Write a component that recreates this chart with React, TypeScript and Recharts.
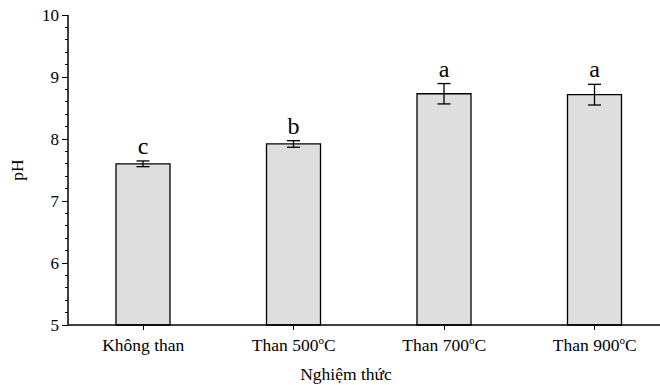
import React from 'react';
import { BarChart, Bar, XAxis, YAxis, ErrorBar, LabelList, Label } from 'recharts';

const categories = ['Không than', 'Than 500°C', 'Than 700°C', 'Than 900°C'];
const phValues = [7.6, 7.92, 8.73, 8.715];
const phErrors = [0.046, 0.053, 0.164, 0.167];
const letters = ['c', 'b', 'a', 'a'];
const yTicks = [
  5, 5.2, 5.4, 5.6, 5.8, 6, 6.2, 6.4, 6.6, 6.8, 7, 7.2, 7.4, 7.6, 7.8,
  8, 8.2, 8.4, 8.6, 8.8, 9, 9.2, 9.4, 9.6, 9.8, 10,
];
const majorTicks = [5, 6, 7, 8, 9, 10];
const yDomain = [5, 10];

const data = categories.map((name, i) => ({
  name,
  ph: phValues[i],
  err: phErrors[i],
  letter: letters[i],
}));

const FONT = '"Liberation Serif", "Times New Roman", serif';

const YTick = (props: any) => {
  const { x, y, payload } = props;
  const v = payload.value;
  const major = majorTicks.some((m) => Math.abs(m - v) < 1e-6);
  return (
    <g>
      <line x1={x - (major ? 6 : 3)} x2={x} y1={y} y2={y} stroke="#000" strokeWidth={1} shapeRendering="crispEdges" />
      {major && (
        <text x={x - 9} y={y} dy={6} textAnchor="end" fontSize={17} fontFamily={FONT} fill="#000">
          {v}
        </text>
      )}
    </g>
  );
};

const XTick = (props: any) => {
  const { x, y, payload } = props;
  const s: string = payload.value;
  const parts = s.split('°');
  return (
    <text x={x} y={y + 19} textAnchor="middle" fontSize={17.5} fontFamily={FONT} fill="#000">
      {parts.length > 1 ? (
        <>
          <tspan>{parts[0]}</tspan>
          <tspan fontSize={11} dy={-7}>o</tspan>
          <tspan dy={7}>{parts[1]}</tspan>
        </>
      ) : (
        s
      )}
    </text>
  );
};

const LetterLabel = (props: any) => {
  const { x, y, width, height, index, value } = props;
  const ppu = height / (phValues[index] - yDomain[0]);
  const top = y - phErrors[index] * ppu;
  return (
    <text x={x + width / 2} y={top - 7} textAnchor="middle" fontSize={24} fontFamily={FONT} fill="#000">
      {value}
    </text>
  );
};

export default function App() {
  return (
    <div style={{ position: 'absolute', left: 0, top: 0, width: 660, height: 385, overflow: 'hidden', background: '#fff' }}>
      <BarChart
        width={680}
        height={385}
        data={data}
        margin={{ top: 15, right: 10, left: 0, bottom: 0 }}
        barSize={54}
      >
        <XAxis
          dataKey="name"
          axisLine={{ stroke: '#000', strokeWidth: 1.5 }}
          tickLine={{ stroke: '#000', shapeRendering: 'crispEdges' }}
          tickSize={5}
          tickMargin={2}
          height={60}
          interval={0}
          tick={<XTick />}
        >
          <Label
            content={(p: any) => {
              const vb = p.viewBox;
              return (
                <text x={vb.x + vb.width / 2 - 23} y={vb.y + 55} textAnchor="middle" fontSize={17.5} fontFamily={FONT} fill="#000">
                  Nghiệm thức
                </text>
              );
            }}
          />
        </XAxis>
        <YAxis
          type="number"
          domain={yDomain}
          ticks={yTicks}
          interval={0}
          width={68}
          axisLine={{ stroke: '#000', strokeWidth: 1.5 }}
          tickLine={false}
          tickSize={0}
          tickMargin={0}
          tick={<YTick />}
        >
          <Label
            content={(p: any) => {
              const vb = p.viewBox;
              const cx = 17;
              const cy = vb.y + vb.height / 2;
              return (
                <text x={cx} y={cy} transform={`rotate(-90 ${cx} ${cy})`} textAnchor="middle" dominantBaseline="central" fontSize={17.5} fontFamily={FONT} fill="#000">
                  pH
                </text>
              );
            }}
          />
        </YAxis>
        <Bar dataKey="ph" fill="#dedede" stroke="#000" strokeWidth={1.3} isAnimationActive={false}>
          <ErrorBar dataKey="err" width={6.5} stroke="#000" strokeWidth={1.3} direction="y" />
          <LabelList dataKey="letter" content={<LetterLabel />} />
        </Bar>
      </BarChart>
    </div>
  );
}
